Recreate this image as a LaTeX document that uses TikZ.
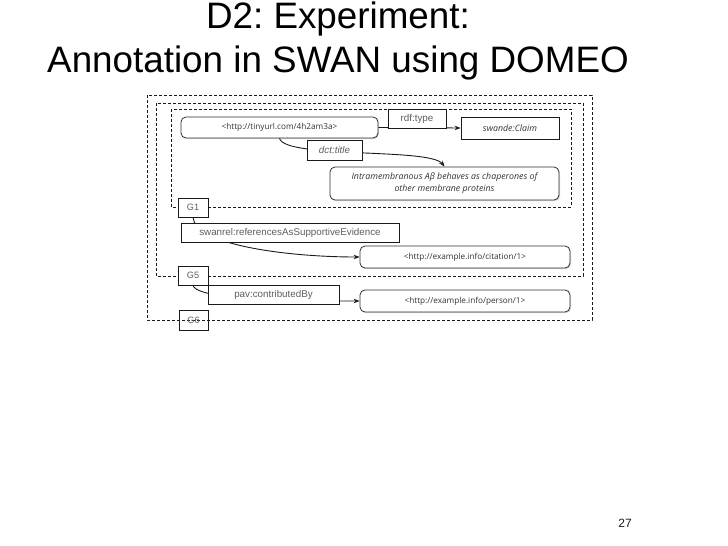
\documentclass[tikz,border=0pt]{standalone}
\usepackage{fontspec}
\setmainfont{Liberation Sans}
\newfontfamily\swanUriFont{Open Sans}
\usepackage{xcolor}
\usetikzlibrary{arrows.meta,positioning,calc,shadows}
\definecolor{swanInk}{HTML}{1A1A1A}
\definecolor{swanText}{HTML}{333333}
\definecolor{swanMuted}{HTML}{5E5E5E}
\definecolor{swanFrame}{HTML}{2E2E2E}
\frenchspacing
\tikzset{
  % Shared look of the named-graph slides: dashed graph frames, rounded
  % resource boxes with a light shadow, square predicate labels on the links.
  swan/base/.style={
    font=\rmfamily\fontsize{9pt}{10pt}\selectfont,
    text=swanInk,
    line cap=butt,
    line join=miter,
    >=Stealth
  },
  swan/title/.style={
    font=\rmfamily\fontsize{36.8pt}{44pt}\selectfont,
    text=black,
    anchor=base,
    inner sep=0pt
  },
  swan/graph frame/.style={
    draw=swanInk,
    line width=.7pt,
    dash pattern=on 3pt off 2pt
  },
  swan/resource/.style={
    rectangle,
    rounded corners=5pt,
    draw=swanFrame,
    fill=white,
    line width=.8pt,
    inner sep=0pt,
    align=center,
    font=\swanUriFont\fontsize{8.2pt}{11pt}\selectfont,
    text=swanText,
    drop shadow={shadow xshift=1pt,shadow yshift=-1.2pt,opacity=.3}
  },
  swan/literal/.style={
    swan/resource,
    font=\swanUriFont\itshape\fontsize{8.8pt}{12pt}\selectfont
  },
  swan/class/.style={
    rectangle,
    draw=swanInk,
    fill=white,
    line width=.8pt,
    inner sep=0pt,
    font=\swanUriFont\itshape\fontsize{8.8pt}{9pt}\selectfont,
    text=swanText
  },
  swan/predicate/.style={
    rectangle,
    draw=swanInk,
    fill=white,
    line width=.8pt,
    inner sep=0pt,
    font=\rmfamily\fontsize{9.8pt}{11pt}\selectfont,
    text=swanMuted
  },
  swan/graph tag/.style={
    swan/predicate,
    font=\rmfamily\fontsize{9.2pt}{10pt}\selectfont,
    minimum width=30pt,
    minimum height=19pt
  },
  swan/link/.style={
    draw=swanInk,
    line width=.9pt,
    -{Stealth[length=6pt,width=4.5pt]}
  }
}

\begin{document}
\begin{tikzpicture}[swan/base,x=1pt,y=-1pt]
  \path[use as bounding box] (0,0) rectangle (728,546);
  \node[swan/title] (titleTop) at (338,28) {D2: Experiment:};
  \node[swan/title] (titleBottom) at (338,72) {Annotation in SWAN using DOMEO};

  % Nested graphs: G6 holds G5, G5 holds G1.
  \draw[swan/graph frame] (147,95) rectangle (592,320);
  \draw[swan/graph frame] (156,103) rectangle (583,276);
  \draw[swan/graph frame] (171,109) rectangle (571,207);

  % (G1) the claim itself
  \node[swan/resource,minimum width=197pt,minimum height=21pt] (tinyUri)
    at (279.5,127.5) {<http://tinyurl.com/4h2am3a>};
  \node[swan/class,minimum width=98pt,minimum height=22pt] (claimClass)
    at (510,128) {swande:Claim};
  \node[swan/literal,minimum width=229pt,minimum height=33pt] (claimText)
    at (444.5,183.5)
    {Intramembranous Aβ behaves as chaperones of\\other membrane proteins};
  \draw[swan/link] (tinyUri.east) -- (claimClass.west);
  \draw[swan/link] (tinyUri.south) .. controls +(5.5,20.5) and +(-14.5,-19)
    .. (claimText.north);
  \node[swan/predicate,minimum width=58pt,minimum height=19pt] (rdfType)
    at (417,118.5) {rdf:type};
  \node[swan/predicate,minimum width=55pt,minimum height=20pt,
    font=\rmfamily\itshape\fontsize{9.8pt}{11pt}\selectfont] (dctTitle)
    at (334.5,150) {dct:title};

  % (G5) evidence and (G6) provenance hang off the graph tags
  \node[swan/graph tag] (tagOne) at (193,207.5) {G1};
  \node[swan/graph tag] (tagFive) at (193,275.5) {G5};
  \node[swan/graph tag,fill=none,minimum width=29pt,minimum height=20pt]
    (tagSix) at (193.5,320) {G6};
  \node[swan/resource,minimum width=210pt,minimum height=22pt] (citationUri)
    at (465,257) {<http://example.info/citation/1>};
  \node[swan/resource,minimum width=210pt,minimum height=22pt] (personUri)
    at (465,301) {<http://example.info/person/1>};
  \draw[swan/link] (tagOne.south) .. controls +(2,28) and +(-70,0)
    .. (citationUri.west);
  \draw[swan/link] (tagFive.south) .. controls +(3,10) and +(-120,0)
    .. (personUri.west);
  \node[swan/predicate,minimum width=218pt,minimum height=19pt] (supportLabel)
    at (290,232.5) {swanrel:referencesAsSupportiveEvidence};
  \node[swan/predicate,minimum width=131pt,minimum height=19pt] (contribLabel)
    at (273.5,294.5) {pav:contributedBy};

  \node[font=\rmfamily\fontsize{12pt}{14pt}\selectfont,anchor=base] (slideNo)
    at (625,527) {27};
\end{tikzpicture}
\end{document}
